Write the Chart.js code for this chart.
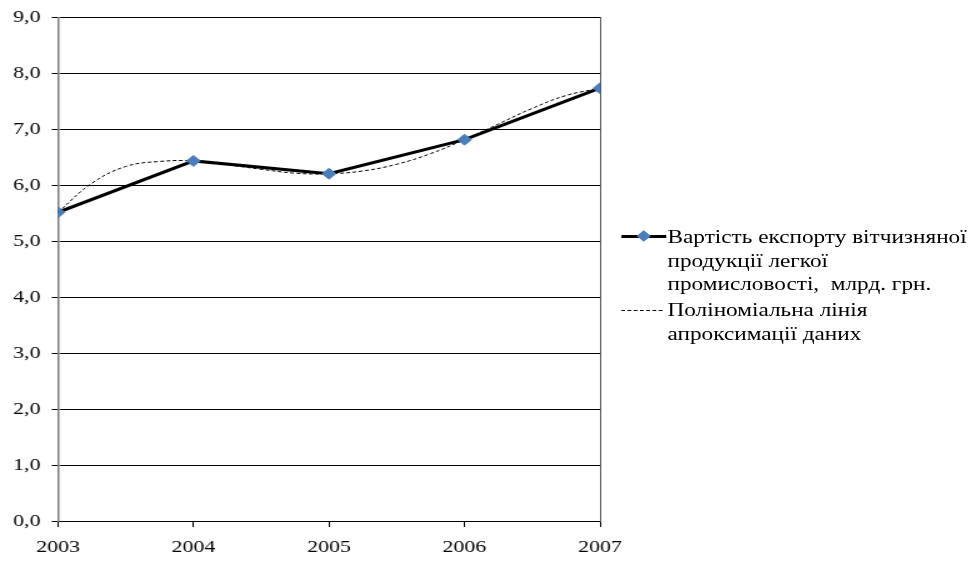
<!DOCTYPE html>
<html lang="uk">
<head>
<meta charset="utf-8">
<script src="https://cdn.jsdelivr.net/npm/chart.js@4/dist/chart.umd.min.js"></script>
<style>
  html, body { margin: 0; padding: 0; background: #fff; }
  body { width: 971px; height: 562px; overflow: hidden; }
  /* the whole figure is laid out narrow and widened horizontally */
  #frame {
    position: absolute; left: 0; top: 0;
    width: 777px; height: 562px;
    transform: scaleX(1.25); transform-origin: 0 0;
  }
  #chartBox { position: absolute; left: 0; top: 0; width: 777px; height: 562px; }
  .legend { position: absolute; font-family: "Liberation Serif", "Times New Roman", serif;
            font-size: 18.6px; line-height: 23.5px; color: #000; white-space: nowrap; }
  .sample { position: absolute; }
</style>
</head>
<body>
<div id="frame">
  <div id="chartBox"><canvas id="chart"></canvas></div>

  <div class="sample" style="left:497px; top:235px; width:36px; border-top:3px solid #000;"></div>
  <div class="sample" style="left:510.5px; top:232px; width:8px; height:8px; background:#4a7ebb; transform:rotate(45deg);"></div>
  <div class="legend" style="left:534px; top:225px;">Вартість експорту вітчизняної<br>продукції легкої<br>промисловості,&nbsp; млрд. грн.</div>

  <div class="sample" style="left:497px; top:310px; width:33px; border-top:1px dashed #000;"></div>
  <div class="legend" style="left:534px; top:298px;">Поліноміальна лінія<br>апроксимації даних</div>
</div>

<script>
// Export of domestic light-industry products, bn UAH
const years = [2003, 2004, 2005, 2006, 2007];
const exportValues = [5.52, 6.44, 6.21, 6.82, 7.74];

// Polynomial approximation curve, sampled every quarter year
const trendYears = [2003, 2003.25, 2003.5, 2003.75, 2004, 2004.25, 2004.5, 2004.75,
                    2005, 2005.25, 2005.5, 2005.75, 2006, 2006.25, 2006.5, 2006.75, 2007];
const trendValues = [5.52, 6.04, 6.34, 6.43, 6.44, 6.37, 6.29, 6.22,
                     6.21, 6.26, 6.38, 6.57, 6.82, 7.10, 7.38, 7.61, 7.74];

const yTicks = [0, 1, 2, 3, 4, 5, 6, 7, 8, 9];

const serif = { family: "'Liberation Serif', 'Times New Roman', serif", size: 17.5, lineHeight: 1 };

new Chart(document.getElementById('chart'), {
  type: 'line',
  data: {
    datasets: [
      {
        label: 'Вартість експорту вітчизняної продукції легкої промисловості, млрд. грн.',
        data: years.map((y, i) => ({ x: y, y: exportValues[i] })),
        borderColor: '#000',
        borderWidth: 3,
        tension: 0,
        pointStyle: 'rectRot',
        pointRadius: 5.5,
        pointBackgroundColor: '#4a7ebb',
        pointBorderColor: '#4a7ebb',
        pointBorderWidth: 1,
        order: 0
      },
      {
        label: 'Поліноміальна лінія апроксимації даних',
        data: trendYears.map((y, i) => ({ x: y, y: trendValues[i] })),
        borderColor: '#000',
        borderWidth: 1,
        borderDash: [3, 2],
        tension: 0.4,
        pointRadius: 0,
        order: 1
      }
    ]
  },
  options: {
    responsive: true,
    maintainAspectRatio: false,
    animation: false,
    layout: { padding: { top: 15, right: 297, bottom: 0, left: 0 } },
    plugins: { legend: { display: false }, tooltip: { enabled: false } },
    scales: {
      x: {
        type: 'linear',
        min: 2003, max: 2007,
        afterBuildTicks: s => { s.ticks = years.map(v => ({ value: v })); },
        ticks: { callback: v => String(v), color: '#000', font: serif, padding: 12, maxRotation: 0 },
        grid: { drawOnChartArea: false, drawTicks: true, tickLength: 6, color: '#000' },
        border: { color: '#000', width: 1 },
        afterFit: s => { s.height = 41; }
      },
      y: {
        min: 0, max: 9,
        afterBuildTicks: s => { s.ticks = yTicks.map(v => ({ value: v })); },
        ticks: { callback: v => v.toFixed(1).replace('.', ','), color: '#000', font: serif, padding: 9 },
        grid: { color: '#000', lineWidth: 1, tickLength: 5 },
        border: { color: '#7f7f7f', width: 1.5 },
        afterFit: s => { s.width = 46.4; }
      },
      yRight: {
        position: 'right',
        min: 0, max: 9,
        ticks: { display: false },
        grid: { display: false },
        border: { color: '#555', width: 1 },
        afterFit: s => { s.width = 0; }
      }
    }
  }
});
</script>
</body>
</html>
